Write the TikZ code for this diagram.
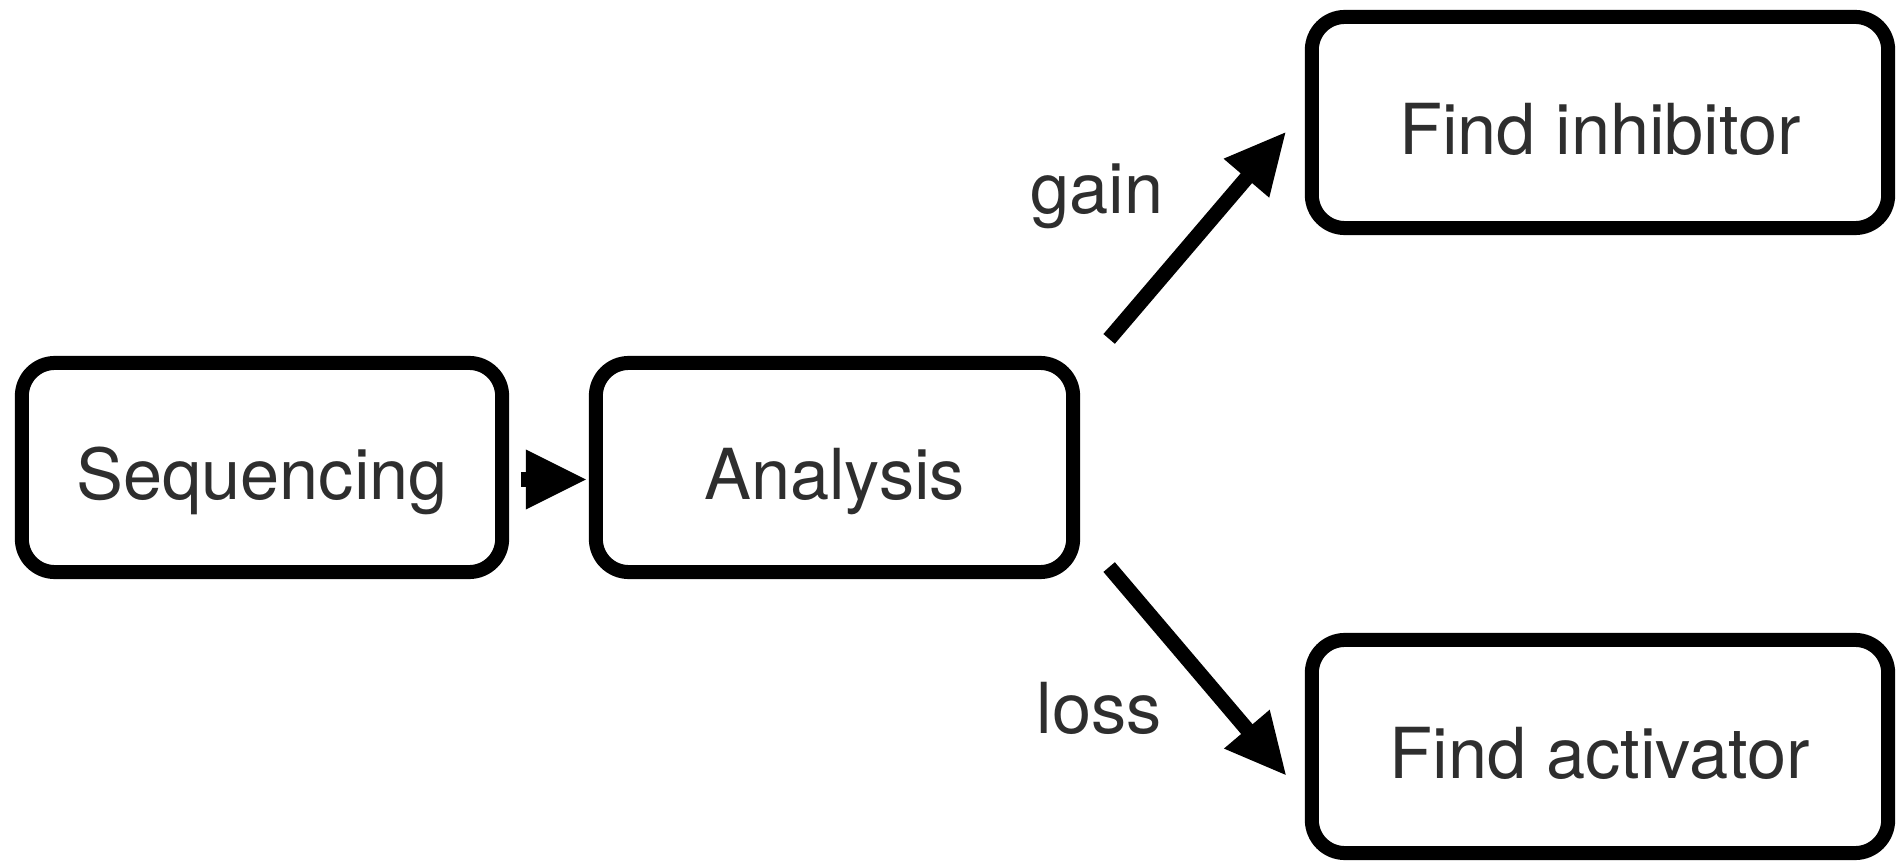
\documentclass[tikz,border=0pt]{standalone}
\usepackage{fontspec}
\setmainfont{TeX Gyre Heros}
\usetikzlibrary{calc,decorations.markings}
\tikzset{
  box/.style={draw=black, line width=0.14cm, rounded corners=0.33cm, fill=white,
    inner sep=0pt, text height=0.8cm, text depth=0.17cm,
    font=\fontsize{20}{24}\selectfont, text=black!82},
  arr/.style={line width=0.15cm, shorten >=0.45cm,
    postaction={decorate, decoration={markings,
      mark=at position 1 with {\fill[black] (0,0) -- (-0.6cm,0.3cm) -- (-0.6cm,-0.3cm) -- cycle;}}}},
  lab/.style={inner sep=0pt, font=\fontsize{20}{24}\selectfont, text=black!82}
}
\begin{document}
\begin{tikzpicture}[x=0.01cm,y=-0.01cm]
\useasboundingbox[fill=white] (0,0) rectangle (1899,864);
\node[box, minimum width=4.8cm, minimum height=2.09cm] (seq) at (262,467.5) {Sequencing};
\node[box, minimum width=4.77cm, minimum height=2.09cm] (ana) at (834.5,467.5) {Analysis};
\node[box, minimum width=5.76cm, minimum height=2.11cm] (inh) at (1600,122.5) {Find inhibitor};
\node[box, minimum width=5.76cm, minimum height=2.13cm] (act) at (1600,746.5) {Find activator};
\node[lab] (gain) at (1097,196) {gain};
\node[lab] (loss) at (1099,708) {loss};
\draw[arr] ($(seq.east)+(12,12)$) -- ($(ana.west)+(-3,12)$);
\draw[arr] ($(ana.north east)+(29,-17)$) -- ($(inh.west)+(-19,9.5)$);
\draw[arr] ($(ana.south east)+(29,-12)$) -- ($(act.west)+(-19,28.5)$);
\end{tikzpicture}
\end{document}
